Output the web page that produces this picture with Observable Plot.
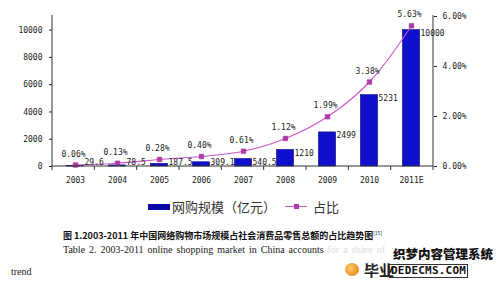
<!DOCTYPE html>
<html><head><meta charset="utf-8">
<script src="https://cdn.jsdelivr.net/npm/d3@7"></script>
<script src="https://cdn.jsdelivr.net/npm/@observablehq/plot@0.6"></script>
<style>
body{margin:0;background:#fff;width:498px;height:282px;position:relative;overflow:hidden;}
#chart{position:absolute;left:0;top:0;}
.abs{position:absolute;white-space:nowrap;}
.leg{font-family:"Noto Sans CJK SC",sans-serif;font-size:13px;color:#333;line-height:14px;}
.cap1{font-family:"Noto Sans CJK SC",sans-serif;font-size:9px;font-weight:bold;color:#111;line-height:11px;}
.cap2{font-family:"Liberation Serif",serif;font-size:10px;color:#222;line-height:11px;}
.logo1{font-family:"Noto Sans CJK SC",sans-serif;font-size:12.5px;font-weight:900;color:#111;line-height:13px;text-shadow:0 0 1px #fff,0 0 2px #fff;}
.logo2{font-family:"DejaVu Sans Mono",monospace;font-size:11px;font-weight:bold;color:#111;line-height:12px;letter-spacing:0.2px;}
.logo3{font-family:"Noto Sans CJK SC",sans-serif;font-size:15px;font-weight:bold;color:#222;line-height:15px;}
</style></head><body>
<div id="chart"></div>
<div class="abs" style="left:148px;top:204px;width:22px;height:6px;background:#0a0aa8;"></div>
<div class="abs leg" style="left:172px;top:200px;">网购规模（亿元）</div>
<div class="abs" style="left:285px;top:206px;width:22px;height:1px;background:#cc55cc;"></div>
<div class="abs" style="left:294px;top:204px;width:5px;height:5px;background:#b03aa8;"></div>
<div class="abs leg" style="left:313px;top:200px;">占比</div>
<div class="abs cap1" style="left:63px;top:230px;">图 1.2003-2011 年中国网络购物市场规模占社会消费品零售总额的占比趋势图<span style="font-size:5px;font-weight:normal;position:relative;top:-4px;">[15]</span></div>
<div class="abs cap2" style="left:63px;top:244px;word-spacing:1.5px;">Table 2. 2003-2011 online shopping market in China accounts <span style="color:#ddd">for a share of</span></div>
<div class="abs cap2" style="left:11px;top:266px;">trend</div>
<div class="abs logo1" style="left:393px;top:247px;">织梦内容管理系统</div>
<div class="abs" style="left:345px;top:263px;width:14px;height:13px;border-radius:50%;background:radial-gradient(circle at 40% 40%,#ffd060,#e07010);"></div>
<div class="abs logo3" style="left:364px;top:262px;">毕业</div>
<div class="abs logo2" style="left:389px;top:264px;border:1px solid #333;padding:0 1px;">DEDECMS.COM</div>
<script>
const years = ["2003","2004","2005","2006","2007","2008","2009","2010","2011E"];
const marketSize = [29.6, 78.5, 187.5, 309.1, 540.5, 1210, 2499, 5231, 10000];
const sharePct = [0.06, 0.13, 0.28, 0.40, 0.61, 1.12, 1.99, 3.38, 5.63];
const leftTicks = [0, 2000, 4000, 6000, 8000, 10000];
const rightTicks = [0, 2, 4, 6];
const leftMax = 11000, rightMax = 6;
const k = leftMax / rightMax;
const rows = years.map((y, i) => ({year: y, size: marketSize[i], share: sharePct[i]}));

function axisLines(index, scales, values, dims) {
  const l = dims.marginLeft, r = dims.width - dims.marginRight;
  const b = dims.height - dims.marginBottom, t = dims.marginTop;
  const g = d3.create("svg:g").attr("stroke", "#333").attr("stroke-width", 1).attr("fill", "none");
  g.append("line").attr("x1", l).attr("x2", l).attr("y1", t - 1).attr("y2", b);
  g.append("line").attr("x1", r).attr("x2", r).attr("y1", t - 1).attr("y2", b);
  g.append("line").attr("x1", l).attr("x2", r).attr("y1", b).attr("y2", b);
  const step = (r - l) / years.length;
  for (let i = 0; i <= years.length; i++) {
    const xx = l + i * step;
    g.append("line").attr("x1", xx).attr("x2", xx).attr("y1", b).attr("y2", b + 4);
  }
  return g.node();
}

const chart = Plot.plot({
  width: 498, height: 195,
  marginLeft: 52, marginRight: 65, marginTop: 16, marginBottom: 29,
  style: {fontFamily: "DejaVu Sans Mono, monospace", fontSize: "8px", color: "#222", background: "transparent"},
  x: {type: "band", domain: years, padding: 0, axis: null},
  y: {domain: [0, leftMax], axis: null},
  marks: [
    Plot.barY(rows, {x: "year", y: "size", fill: "#1010cc", stroke: "#00007a", strokeWidth: 0.6, insetLeft: 12.5, insetRight: 12.5}),
    Plot.line(rows, {x: "year", y: d => d.share * k, curve: "catmull-rom", stroke: "#cc55cc", strokeWidth: 1.1}),
    Plot.dot(rows, {x: "year", y: d => d.share * k, symbol: "square", r: 2.6, fill: "#b03aa8", stroke: "#9a2892", strokeWidth: 0.5}),
    Plot.text(rows, {x: "year", y: d => Math.max(d.size, 500), text: d => String(d.size), textAnchor: "start", dx: 9, dy: 3, fill: "#222"}),
    Plot.text(rows, {x: "year", y: d => d.share * k, text: d => d.share.toFixed(2) + "%", dy: -11, dx: -2, fill: "#222"}),
    Plot.axisY({anchor: "left", ticks: leftTicks, tickSize: 3, tickPadding: 7, tickFormat: d => String(d), label: null}),
    Plot.axisY({anchor: "right", ticks: rightTicks.map(p => p * k), tickSize: 3, tickPadding: 6, tickFormat: d => (d / k).toFixed(2) + "%", label: null}),
    Plot.axisX({tickSize: 0, tickPadding: 11, label: null}),
    axisLines
  ]
});
document.getElementById("chart").appendChild(chart);
</script>
</body></html>
